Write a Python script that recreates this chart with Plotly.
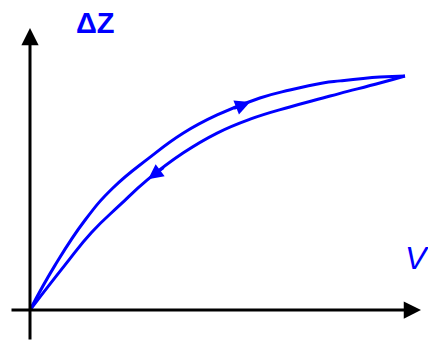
import numpy as np
import plotly.graph_objects as go

# Loading branch (V increasing) and unloading branch (V decreasing)
v_up = [0.0, 0.067, 0.147, 0.221, 0.316, 0.408, 0.499, 0.613, 0.693, 0.781, 0.827, 0.933, 1.0]
dz_up = [0.0, 0.191, 0.383, 0.519, 0.645, 0.752, 0.830, 0.902, 0.936, 0.966, 0.975, 0.991, 0.996]

v_dn = [1.0, 0.933, 0.827, 0.781, 0.693, 0.587, 0.499, 0.408, 0.312, 0.24, 0.164, 0.093, 0.0]
dz_dn = [0.996, 0.966, 0.922, 0.902, 0.864, 0.812, 0.753, 0.668, 0.553, 0.447, 0.330, 0.191, 0.0]

BLUE = "#0000ff"

# plot window: 428x341 px, origin sits at pixel (30, 310)
W, H = 428, 341
X0, Y0 = 30, 310
SX, SY = 375.0, 235.0  # pixels per data unit


def px_x(p):
    return (p - X0) / SX


def px_y(p):
    return (Y0 - p) / SY


fig = go.Figure()
for vx, vy in ((v_up, dz_up), (v_dn, dz_dn)):
    fig.add_trace(go.Scatter(
        x=vx, y=vy, mode="lines",
        line=dict(color=BLUE, width=3, shape="spline", smoothing=1.3),
        hoverinfo="skip", showlegend=False,
    ))

ann = []

# coordinate axes with arrow tips
ann.append(dict(x=px_x(421), y=0, ax=px_x(10), ay=0, xref="x", yref="y",
                axref="x", ayref="y", showarrow=True, arrowhead=2,
                arrowsize=1.15, arrowwidth=3, arrowcolor="black", text="",
                standoff=0, startstandoff=0))
ann.append(dict(x=0, y=px_y(28), ax=0, ay=px_y(341), xref="x", yref="y",
                axref="x", ayref="y", showarrow=True, arrowhead=2,
                arrowsize=1.15, arrowwidth=3, arrowcolor="black", text="",
                standoff=0, startstandoff=0))

# direction markers on each branch
up_tip, up_tail = 0.587, 0.54
ann.append(dict(x=up_tip, y=float(np.interp(up_tip, v_up, dz_up)),
                ax=up_tail, ay=float(np.interp(up_tail, v_up, dz_up)),
                xref="x", yref="y", axref="x", ayref="y", showarrow=True,
                arrowhead=2, arrowsize=1.0, arrowwidth=3, arrowcolor=BLUE,
                text="", standoff=0))
vr, dr = v_dn[::-1], dz_dn[::-1]
dn_tip, dn_tail = 0.315, 0.36
ann.append(dict(x=dn_tip, y=float(np.interp(dn_tip, vr, dr)),
                ax=dn_tail, ay=float(np.interp(dn_tail, vr, dr)),
                xref="x", yref="y", axref="x", ayref="y", showarrow=True,
                arrowhead=2, arrowsize=1.0, arrowwidth=3, arrowcolor=BLUE,
                text="", standoff=0))

# axis labels
ann.append(dict(x=px_x(95), y=px_y(23), xref="x", yref="y", text="<b>ΔZ</b>",
                showarrow=False, xanchor="center", yanchor="middle",
                font=dict(family="Liberation Sans, Arial", size=29, color=BLUE)))
ann.append(dict(x=px_x(403), y=px_y(258), xref="x", yref="y", text="<i>V</i>",
                showarrow=False, xanchor="left", yanchor="middle",
                font=dict(family="Liberation Sans, Arial", size=32, color=BLUE)))

fig.update_layout(
    width=W, height=H,
    margin=dict(l=0, r=0, t=0, b=0),
    paper_bgcolor="white", plot_bgcolor="white",
    xaxis=dict(range=[px_x(0), px_x(W)], visible=False, fixedrange=True),
    yaxis=dict(range=[px_y(H), px_y(0)], visible=False, fixedrange=True),
    annotations=ann,
    showlegend=False,
)

fig.write_html("out.html")
